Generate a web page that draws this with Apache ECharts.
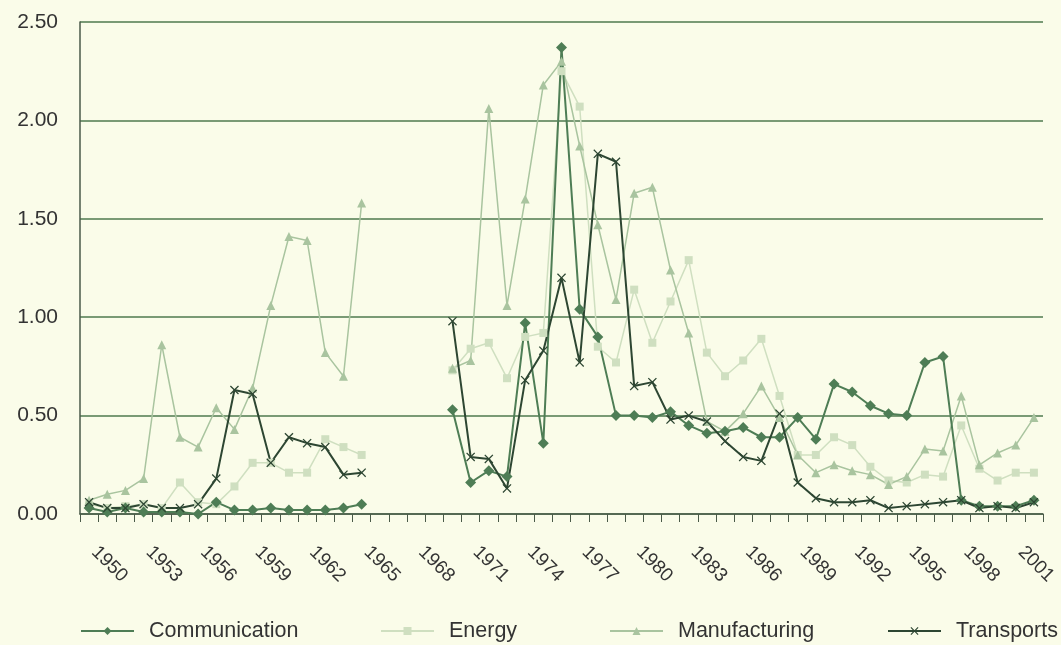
<!DOCTYPE html>
<html>
<head>
<meta charset="utf-8">
<title>Sector shares 1949-2001</title>
<script src="https://cdn.jsdelivr.net/npm/echarts@6/dist/echarts.min.js"></script>
<style>
  html, body { margin: 0; padding: 0; background: #fafce9; }
  #chart { width: 1061px; height: 645px; }
</style>
</head>
<body>
<div id="chart"></div>
<script>
const years = [
  "1949", "1950", "1951", "1952", "1953", "1954", "1955", "1956", "1957", "1958",
  "1959", "1960", "1961", "1962", "1963", "1964", "1965", "1966", "1967", "1968",
  "1969", "1970", "1971", "1972", "1973", "1974", "1975", "1976", "1977", "1978",
  "1979", "1980", "1981", "1982", "1983", "1984", "1985", "1986", "1987", "1988",
  "1989", "1990", "1991", "1992", "1993", "1994", "1995", "1996", "1997", "1998",
  "1999", "2000", "2001"
];

// gaps (1965-1968) are null
const communication = [
  0.03, 0.01, 0.03, 0.01, 0.01, 0.01, 0.00, 0.06, 0.02, 0.02,
  0.03, 0.02, 0.02, 0.02, 0.03, 0.05, null, null, null, null,
  0.53, 0.16, 0.22, 0.19, 0.97, 0.36, 2.37, 1.04, 0.90, 0.50,
  0.50, 0.49, 0.52, 0.45, 0.41, 0.42, 0.44, 0.39, 0.39, 0.49,
  0.38, 0.66, 0.62, 0.55, 0.51, 0.50, 0.77, 0.80, 0.07, 0.04,
  0.04, 0.04, 0.07
];

const energy = [
  0.05, 0.03, 0.04, 0.05, 0.03, 0.16, 0.06, 0.05, 0.14, 0.26,
  0.26, 0.21, 0.21, 0.38, 0.34, 0.30, null, null, null, null,
  0.73, 0.84, 0.87, 0.69, 0.90, 0.92, 2.25, 2.07, 0.85, 0.77,
  1.14, 0.87, 1.08, 1.29, 0.82, 0.70, 0.78, 0.89, 0.60, 0.30,
  0.30, 0.39, 0.35, 0.24, 0.17, 0.16, 0.20, 0.19, 0.45, 0.23,
  0.17, 0.21, 0.21
];

const manufacturing = [
  0.07, 0.10, 0.12, 0.18, 0.86, 0.39, 0.34, 0.54, 0.43, 0.64,
  1.06, 1.41, 1.39, 0.82, 0.70, 1.58, null, null, null, null,
  0.74, 0.78, 2.06, 1.06, 1.60, 2.18, 2.30, 1.87, 1.47, 1.09,
  1.63, 1.66, 1.24, 0.92, 0.47, 0.42, 0.51, 0.65, 0.49, 0.30,
  0.21, 0.25, 0.22, 0.20, 0.15, 0.19, 0.33, 0.32, 0.60, 0.25,
  0.31, 0.35, 0.49
];

const transports = [
  0.06, 0.03, 0.03, 0.05, 0.03, 0.03, 0.05, 0.18, 0.63, 0.61,
  0.26, 0.39, 0.36, 0.34, 0.20, 0.21, null, null, null, null,
  0.98, 0.29, 0.28, 0.13, 0.68, 0.83, 1.20, 0.77, 1.83, 1.79,
  0.65, 0.67, 0.48, 0.50, 0.47, 0.37, 0.29, 0.27, 0.51, 0.16,
  0.08, 0.06, 0.06, 0.07, 0.03, 0.04, 0.05, 0.06, 0.07, 0.03,
  0.04, 0.03, 0.06
];

const seriesNames = ['Communication', 'Energy', 'Manufacturing', 'Transports'];
const legendLeft = [80, 380, 609, 887];

const FONT = '"Liberation Sans", Arial, sans-serif';
const CROSS = 'path://M0,1L1,0L5,4L9,0L10,1L6,5L10,9L9,10L5,6L1,10L0,9L4,5Z';

const chart = echarts.init(document.getElementById('chart'));

function line(name, data, color, symbol, size, width) {
  return {
    name: name,
    type: 'line',
    data: data,
    symbol: symbol,
    symbolSize: size,
    showSymbol: true,
    connectNulls: false,
    animation: false,
    lineStyle: { color: color, width: width },
    itemStyle: { color: color, borderWidth: 0 }
  };
}

// one legend per item so each sits where the original puts it
const legends = seriesNames.map((name, i) => ({
  top: 620,
  left: legendLeft[i],
  padding: 0,
  itemWidth: 53,
  itemHeight: 10,
  textStyle: { fontFamily: FONT, fontSize: 21.5, color: '#333', padding: [0, 0, 0, 10] },
  data: [name]
}));

chart.setOption({
  backgroundColor: '#fafce9',
  animation: false,
  grid: { left: 80, right: 18, top: 22, bottom: 131, outerBoundsMode: 'none' },
  legend: legends,
  xAxis: {
    type: 'category',
    data: years,
    boundaryGap: true,
    axisLine: { lineStyle: { color: '#4a5a48', width: 1.5 } },
    axisTick: { show: true, interval: 0, length: 8, lineStyle: { color: '#4a5a48' } },
    axisLabel: {
      interval: (idx) => (idx - 1) % 3 === 0,
      rotate: -45,
      align: 'center',
      verticalAlign: 'middle',
      margin: 48,
      padding: [0, 0, 0, 6],
      fontFamily: FONT,
      fontSize: 19,
      color: '#333'
    }
  },
  yAxis: {
    type: 'value',
    min: 0,
    max: 2.5,
    interval: 0.5,
    axisLine: { show: true, lineStyle: { color: '#4a5a48', width: 1.5 } },
    axisTick: { show: false },
    axisLabel: {
      formatter: (v) => v.toFixed(2),
      margin: 22,
      fontFamily: FONT,
      fontSize: 21,
      color: '#333'
    },
    splitLine: { lineStyle: { color: '#4e7a4e', width: 1.5 } }
  },
  series: [
    line('Energy', energy, '#cfdfc0', 'rect', 8, 1.5),
    line('Manufacturing', manufacturing, '#a9c49f', 'triangle', 9, 1.5),
    line('Communication', communication, '#4e7d55', 'diamond', 11, 2),
    line('Transports', transports, '#2d4632', CROSS, 9, 2)
  ]
});
</script>
</body>
</html>
